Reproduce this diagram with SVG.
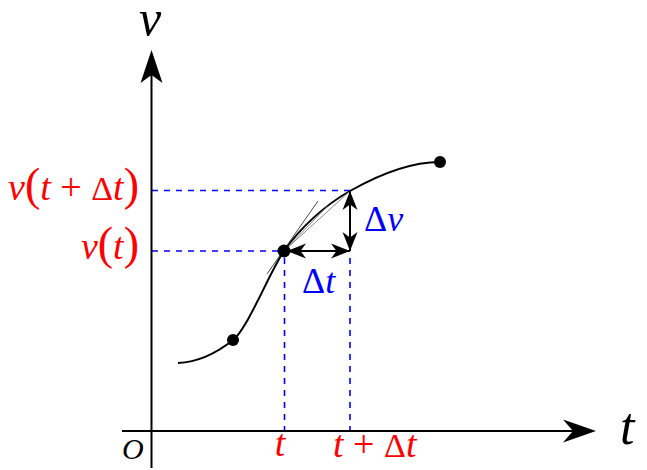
<svg xmlns="http://www.w3.org/2000/svg" width="647" height="470" viewBox="0 0 647 470">
<style>
text{font-family:'Liberation Serif','Times New Roman',serif;}
.it{font-style:italic;}
.red{fill:#FF0000;}
.blue{fill:#0000FF;}
.dash{stroke:#0000FF;stroke-width:1.6;stroke-dasharray:6,6;fill:none;}
.axis{stroke:#000;stroke-width:2;fill:none;}
</style>
<defs>
<marker id="ah" markerUnits="userSpaceOnUse" markerWidth="22" markerHeight="18" viewBox="-20 -9 22 18" refX="0" refY="0" orient="auto-start-reverse">
<path d="M0,0 L-19,-7.5 L-13.5,0 L-19,7.5 Z" fill="#000"/>
</marker>
</defs>
<rect width="647" height="470" fill="#fff"/>
<g id="guides">
<path class="dash" d="M152,190.5 H350 M152,251 H284 M284.5,258 V431 M350,258 V431"/>
</g>
<g id="axes">
<path class="axis" d="M151.5,468 V70"/>
<polygon points="151.5,50 140.5,83 151.5,75 162.5,83" fill="#000"/>
<path class="axis" d="M122,431 H578"/>
<polygon points="596,431 563,419.5 573,431 563,442.5" fill="#000"/>
<text class="it" x="139" y="35" font-size="50">v</text>
<text class="it" x="620" y="444" font-size="52">t</text>
<text class="it" x="122" y="459" font-size="30">O</text>
</g>
<g id="curve">
<path d="M178,363 C200,362 218,352 233,340 C248,328 270,271 284,251 C300,228 325,205 350,191 C380,174 410,162 440,162" stroke="#000" stroke-width="2" fill="none"/>
<line x1="267" y1="274" x2="318" y2="201" stroke="#333" stroke-width="0.9"/>
<line x1="284" y1="251" x2="327.7" y2="205.8" stroke="#777" stroke-width="0.9"/>
<line x1="284" y1="251" x2="350" y2="191" stroke="#888" stroke-width="1"/>
</g>
<g id="points">
<circle cx="233" cy="340" r="6"/>
<circle cx="284" cy="251" r="6.5"/>
<circle cx="440" cy="162" r="6"/>
</g>
<g id="connectors">
<line x1="287" y1="251" x2="350" y2="251" stroke="#000" stroke-width="2" marker-start="url(#ah)" marker-end="url(#ah)"/>
<line x1="350" y1="191" x2="350" y2="251" stroke="#000" stroke-width="2" marker-start="url(#ah)" marker-end="url(#ah)"/>
</g>
<g id="labels">
<text class="red" x="139" y="200" text-anchor="end" font-size="38"><tspan class="it">v</tspan><tspan font-size="46">(</tspan><tspan class="it">t</tspan> + <tspan font-size="34">Δ</tspan><tspan class="it">t</tspan><tspan font-size="46">)</tspan></text>
<text class="red" x="139" y="259" text-anchor="end" font-size="38"><tspan class="it">v</tspan><tspan font-size="46">(</tspan><tspan class="it">t</tspan><tspan font-size="46">)</tspan></text>
<text class="red it" x="280" y="456" text-anchor="middle" font-size="38">t</text>
<text class="red" x="333" y="457" font-size="38"><tspan class="it">t</tspan> + <tspan font-size="34">Δ</tspan><tspan class="it">t</tspan></text>
<text class="blue" x="364" y="231" font-size="36"><tspan>Δ</tspan><tspan class="it">v</tspan></text>
<text class="blue" x="302" y="293" font-size="36"><tspan>Δ</tspan><tspan class="it">t</tspan></text>
</g>
</svg>
